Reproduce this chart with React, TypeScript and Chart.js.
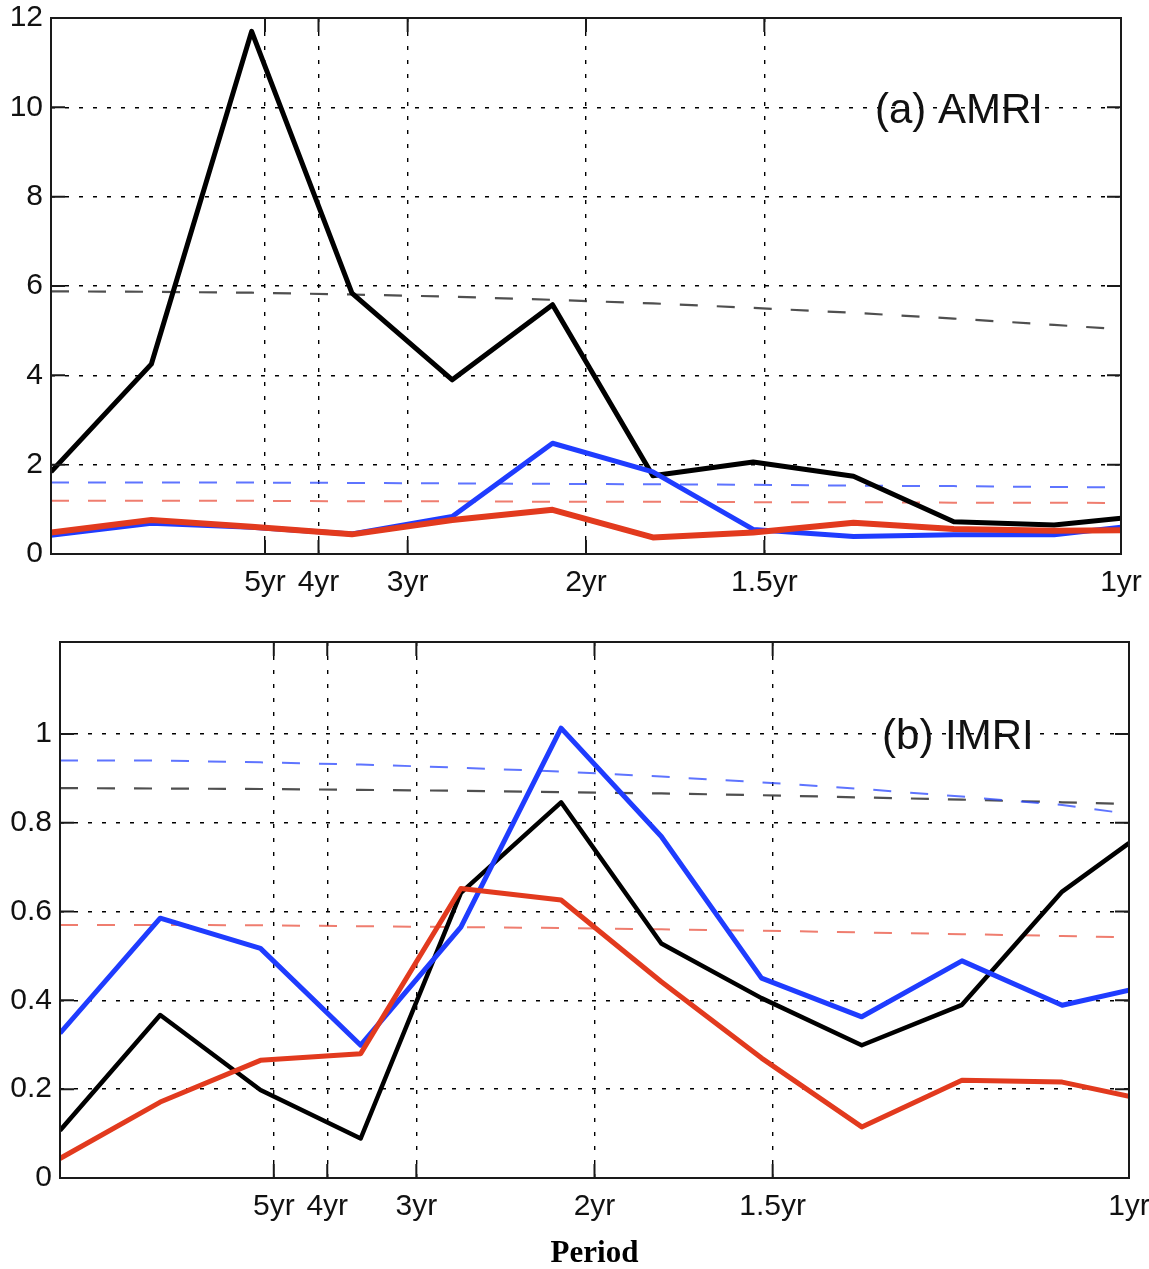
import React, { useEffect, useRef } from 'react';
import { Chart, registerables } from 'chart.js';

Chart.register(...registerables);

// frequency (cycles per year) of each spectral estimate
const FREQ = [0, 0.09375, 0.1875, 0.28125, 0.375, 0.46875, 0.5625, 0.65625, 0.75, 0.84375, 0.9375, 1.0];
const PERIOD_YEARS = [5, 4, 3, 2, 1.5, 1];
const PERIOD_LABELS = ['5yr', '4yr', '3yr', '2yr', '1.5yr', '1yr'];
const AMRI_Y_TICKS = [0, 2, 4, 6, 8, 10, 12];
const IMRI_Y_TICKS = [0, 0.2, 0.4, 0.6, 0.8, 1];

// (a) AMRI
const AMRI_BLACK = [1.84, 4.25, 11.7, 5.84, 3.9, 5.58, 1.75, 2.06, 1.74, 0.72, 0.65, 0.8];
const AMRI_BLUE = [0.42, 0.69, 0.6, 0.45, 0.84, 2.48, 1.84, 0.55, 0.39, 0.43, 0.43, 0.6];
const AMRI_RED = [0.48, 0.76, 0.61, 0.44, 0.76, 0.99, 0.37, 0.48, 0.7, 0.56, 0.52, 0.53];
const AMRI_BLACK_SIG = [5.88, 5.87, 5.85, 5.81, 5.76, 5.69, 5.61, 5.51, 5.4, 5.27, 5.13, 5.03];
const AMRI_BLUE_SIG = [1.6, 1.6, 1.6, 1.59, 1.58, 1.57, 1.56, 1.55, 1.53, 1.52, 1.5, 1.49];
const AMRI_RED_SIG = [1.19, 1.19, 1.19, 1.18, 1.18, 1.17, 1.17, 1.16, 1.16, 1.15, 1.15, 1.14];

// (b) IMRI
const IMRI_BLACK = [0.107, 0.367, 0.198, 0.089, 0.642, 0.846, 0.528, 0.405, 0.299, 0.39, 0.645, 0.754];
const IMRI_BLUE = [0.326, 0.585, 0.517, 0.299, 0.565, 1.013, 0.769, 0.45, 0.363, 0.489, 0.389, 0.423];
const IMRI_RED = [0.044, 0.171, 0.265, 0.28, 0.652, 0.626, 0.442, 0.27, 0.115, 0.22, 0.216, 0.184];
const IMRI_BLACK_SIG = [0.878, 0.877, 0.876, 0.874, 0.872, 0.869, 0.866, 0.862, 0.857, 0.852, 0.846, 0.842];
const IMRI_BLUE_SIG = [0.94, 0.94, 0.936, 0.931, 0.924, 0.915, 0.904, 0.891, 0.876, 0.859, 0.84, 0.82];
const IMRI_RED_SIG = [0.57, 0.57, 0.569, 0.567, 0.565, 0.563, 0.56, 0.557, 0.553, 0.549, 0.545, 0.542];

const SANS = "'Liberation Sans', Arial, Helvetica, sans-serif";
const SERIF = "'Liberation Serif', 'Times New Roman', serif";

const pts = (vals: number[]) => vals.map((v, i) => ({ x: FREQ[i], y: v }));

function solid(vals: number[], color: string, width: number) {
  return { data: pts(vals), borderColor: color, borderWidth: width, pointRadius: 0, tension: 0, fill: false, borderJoinStyle: 'round' };
}
function dashed(vals: number[], color: string, width: number) {
  return { data: pts(vals), borderColor: color, borderWidth: width, borderDash: [18, 19], pointRadius: 0, tension: 0, fill: false };
}

function framePlugin(label: string, lx: number, ly: number) {
  return {
    id: 'frame',
    afterDatasetsDraw(chart: any) {
      const { ctx, chartArea } = chart;
      const { left, right, top, bottom } = chartArea;
      const xs = chart.scales.x;
      const ys = chart.scales.y;
      ctx.save();
      ctx.setLineDash([]);
      ctx.strokeStyle = '#1a1a1a';
      ctx.lineWidth = 2;
      ctx.strokeRect(left, top, right - left, bottom - top);
      const TL = 14;
      ctx.beginPath();
      ys.ticks.forEach((t: any) => {
        const py = ys.getPixelForValue(t.value);
        ctx.moveTo(left, py); ctx.lineTo(left + TL, py);
        ctx.moveTo(right, py); ctx.lineTo(right - TL, py);
      });
      xs.ticks.forEach((t: any) => {
        const px = xs.getPixelForValue(t.value);
        ctx.moveTo(px, bottom); ctx.lineTo(px, bottom - TL);
        ctx.moveTo(px, top); ctx.lineTo(px, top + TL);
      });
      ctx.stroke();
      ctx.font = `42px ${SANS}`;
      ctx.fillStyle = '#111';
      ctx.textAlign = 'left';
      ctx.textBaseline = 'middle';
      ctx.fillText(label, xs.getPixelForValue(lx), ys.getPixelForValue(ly));
      ctx.restore();
    },
  };
}

function zeroPadding(scale: any) {
  scale.paddingTop = 0;
  scale.paddingBottom = 0;
  scale.paddingLeft = 0;
  scale.paddingRight = 0;
}

function makeConfig(opts: {
  black: number[]; blue: number[]; red: number[];
  blackSig: number[]; blueSig: number[]; redSig: number[];
  yMax: number; yTicks: number[]; yWidth: number; xHeight: number;
  padTop: number; padRight: number; label: string; labelX: number; labelY: number;
  title: boolean; widths: [number, number, number];
}) {
  return {
    type: 'line',
    data: {
      datasets: [
        solid(opts.red, '#e23a1e', opts.widths[2]),
        solid(opts.blue, '#1f3cff', opts.widths[1]),
        solid(opts.black, '#000000', opts.widths[0]),
        dashed(opts.redSig, 'rgba(232,70,50,0.7)', 2),
        dashed(opts.blueSig, 'rgba(40,70,255,0.75)', 2),
        dashed(opts.blackSig, 'rgba(60,60,60,0.9)', 2.2),
      ],
    },
    options: {
      responsive: false,
      animation: false,
      devicePixelRatio: 1,
      layout: { padding: { top: opts.padTop, right: opts.padRight, left: 0, bottom: 0 } },
      plugins: { legend: { display: false }, tooltip: { enabled: false } },
      scales: {
        x: {
          type: 'linear',
          min: 0,
          max: 1,
          afterBuildTicks: (scale: any) => {
            scale.ticks = PERIOD_YEARS.map((p) => ({ value: 1 / p }));
          },
          afterFit: (scale: any) => { scale.height = opts.xHeight; zeroPadding(scale); },
          ticks: {
            autoSkip: false,
            maxRotation: 0,
            padding: 11,
            color: '#111',
            font: { family: SANS, size: 30 },
            callback: (v: number) => {
              const i = PERIOD_YEARS.findIndex((p) => Math.abs(1 / p - v) < 1e-6);
              return i >= 0 ? PERIOD_LABELS[i] : '';
            },
          },
          grid: { color: '#000', lineWidth: 1.4, drawTicks: false },
          border: { display: false, dash: [4, 10] },
          title: {
            display: opts.title,
            text: 'Period',
            color: '#000',
            font: { family: SERIF, size: 31, weight: 'bold' },
            padding: { top: 0, bottom: -4 },
          },
        },
        y: {
          type: 'linear',
          min: 0,
          max: opts.yMax,
          afterBuildTicks: (scale: any) => {
            scale.ticks = opts.yTicks.map((v) => ({ value: v }));
          },
          afterFit: (scale: any) => { scale.width = opts.yWidth; zeroPadding(scale); },
          ticks: {
            padding: 8,
            color: '#111',
            font: { family: SANS, size: 30 },
            callback: (v: number) => String(Math.round(v * 10) / 10),
          },
          grid: { color: '#000', lineWidth: 1.4, drawTicks: false },
          border: { display: false, dash: [4, 10] },
        },
      },
    },
    plugins: [framePlugin(opts.label, opts.labelX, opts.labelY)],
  };
}

function Panel(props: { cfg: any; top: number; height: number }) {
  const ref = useRef<HTMLCanvasElement | null>(null);
  useEffect(() => {
    if (!ref.current) return;
    const chart = new Chart(ref.current, props.cfg);
    return () => chart.destroy();
  }, []);
  return (
    <canvas
      ref={ref}
      width={1149}
      height={props.height}
      style={{ position: 'absolute', left: 0, top: props.top, width: 1149, height: props.height, display: 'block' }}
    />
  );
}

export default function App() {
  const cfgA = makeConfig({
    black: AMRI_BLACK, blue: AMRI_BLUE, red: AMRI_RED,
    blackSig: AMRI_BLACK_SIG, blueSig: AMRI_BLUE_SIG, redSig: AMRI_RED_SIG,
    yMax: 12, yTicks: AMRI_Y_TICKS, yWidth: 51, xHeight: 46, padTop: 18, padRight: 28,
    label: '(a) AMRI', labelX: 0.77, labelY: 9.91, title: false, widths: [5, 5, 6],
  });
  const cfgB = makeConfig({
    black: IMRI_BLACK, blue: IMRI_BLUE, red: IMRI_RED,
    blackSig: IMRI_BLACK_SIG, blueSig: IMRI_BLUE_SIG, redSig: IMRI_RED_SIG,
    yMax: 1.207, yTicks: IMRI_Y_TICKS, yWidth: 60, xHeight: 91, padTop: 42, padRight: 20,
    label: '(b) IMRI', labelX: 0.769, labelY: 0.991, title: true, widths: [4.5, 5, 5],
  });
  return (
    <div style={{ position: 'absolute', left: 0, top: 0, width: 1149, height: 1269, background: '#fff' }}>
      <Panel cfg={cfgA} top={0} height={600} />
      <Panel cfg={cfgB} top={600} height={669} />
    </div>
  );
}
